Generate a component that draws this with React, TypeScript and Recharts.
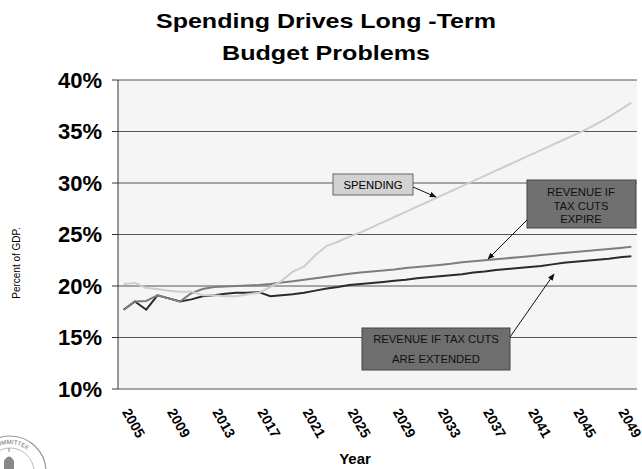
import React from 'react';
import { LineChart, Line, XAxis, YAxis, CartesianGrid } from 'recharts';

const YEARS = [
  2005, 2006, 2007, 2008, 2009, 2010, 2011, 2012, 2013, 2014, 2015, 2016, 2017, 2018, 2019, 2020,
  2021, 2022, 2023, 2024, 2025, 2026, 2027, 2028, 2029, 2030, 2031, 2032, 2033, 2034, 2035, 2036,
  2037, 2038, 2039, 2040, 2041, 2042, 2043, 2044, 2045, 2046, 2047, 2048, 2049, 2050,
];

// percent of GDP
const SPENDING = [
  20.2, 20.3, 19.8, 19.7, 19.55, 19.45, 19.45, 19.1, 19.1, 19.0, 19.0, 19.2, 19.35, 19.9, 20.5, 21.4,
  21.9, 23.0, 23.9, 24.3, 24.8, 25.2, 25.7, 26.2, 26.7, 27.2, 27.7, 28.2, 28.7, 29.2, 29.7, 30.2,
  30.7, 31.2, 31.7, 32.2, 32.7, 33.2, 33.7, 34.2, 34.7, 35.2, 35.8, 36.4, 37.1, 37.8,
];
const REVENUE_EXPIRE = [
  17.7, 18.5, 18.55, 19.1, 18.8, 18.5, 19.3, 19.7, 19.9, 19.95, 20.0, 20.05, 20.1, 20.2, 20.35, 20.45,
  20.6, 20.75, 20.9, 21.05, 21.2, 21.3, 21.4, 21.5, 21.6, 21.75, 21.85, 21.95, 22.05, 22.15, 22.3, 22.4,
  22.5, 22.6, 22.7, 22.8, 22.9, 23.0, 23.1, 23.2, 23.3, 23.4, 23.5, 23.6, 23.7, 23.8,
];
const REVENUE_EXTENDED = [
  17.7, 18.5, 17.7, 19.1, 18.8, 18.5, 18.7, 19.0, 19.1, 19.25, 19.35, 19.35, 19.4, 19.0, 19.1, 19.2,
  19.35, 19.55, 19.75, 19.9, 20.1, 20.2, 20.3, 20.4, 20.5, 20.6, 20.75, 20.85, 20.95, 21.05, 21.15, 21.3,
  21.4, 21.55, 21.65, 21.75, 21.85, 21.95, 22.1, 22.25, 22.35, 22.45, 22.55, 22.65, 22.8, 22.9,
];

const LABEL_YEARS = [2005, 2009, 2013, 2017, 2021, 2025, 2029, 2033, 2037, 2041, 2045, 2049];
const Y_TICKS = [10, 15, 20, 25, 30, 35, 40];

const FONT = '"Liberation Sans", Arial, Helvetica, sans-serif';

const data = YEARS.map((year, i) => ({
  year,
  spending: SPENDING[i],
  expire: REVENUE_EXPIRE[i],
  extended: REVENUE_EXTENDED[i],
}));

// excel style: tick marks sit between categories
const boundaryTicks = [YEARS[0] - 0.5, ...YEARS.map(y => y + 0.5)];

const YearTick = (props: any) => {
  const { x, y, payload } = props;
  return (
    <text
      transform={`translate(${x - 2}, ${y + 23}) rotate(60)`}
      textAnchor="start"
      fontFamily={FONT}
      fontSize={14}
      fontWeight="bold"
      fill="#000"
    >
      {payload.value}
    </text>
  );
};

const Overlay = () => (
  <svg width={642} height={469} style={{ position: 'absolute', left: 0, top: 0, pointerEvents: 'none' }}>
    <defs>
      <marker id="arr" viewBox="0 0 10 10" refX="9" refY="5" markerWidth="7" markerHeight="7" orient="auto">
        <path d="M0,1 L10,5 L0,9 z" fill="#111" />
      </marker>
      <path id="sealPath" d="M -18,472 A 28 28 0 0 1 38,472" />
    </defs>

    <g fontFamily={FONT} fontWeight="bold" fill="#000" textAnchor="middle">
      <text x={326} y={28} fontSize={21} textLength={340} lengthAdjust="spacingAndGlyphs">Spending Drives Long -Term</text>
      <text x={326} y={60} fontSize={21} textLength={208} lengthAdjust="spacingAndGlyphs">Budget Problems</text>
      <text x={355} y={464} fontSize={15}>Year</text>
    </g>

    <text transform="translate(20, 263) rotate(-90)" textAnchor="middle" fontFamily={FONT} fontSize={10} fill="#000">
      Percent of GDP.
    </text>

    {/* SPENDING callout */}
    <rect x={333} y={174} width={80} height={21} fill="#d2d2d2" stroke="#666" />
    <text x={373} y={189} textAnchor="middle" fontFamily={FONT} fontSize={11.3} fill="#000">SPENDING</text>
    <line x1={413} y1={187} x2={436} y2={197} stroke="#111" strokeWidth={1} markerEnd="url(#arr)" />

    {/* revenue if tax cuts expire */}
    <rect x={527} y={180} width={109} height={48} fill="#707070" stroke="#444" />
    <g fontFamily={FONT} fontSize={11.3} fill="#111" textAnchor="middle">
      <text x={581} y={196}>REVENUE IF</text>
      <text x={581} y={209.5}>TAX CUTS</text>
      <text x={581} y={222.5}>EXPIRE</text>
    </g>
    <line x1={527} y1={220} x2={488} y2={259} stroke="#111" strokeWidth={1} markerEnd="url(#arr)" />

    {/* revenue if tax cuts are extended */}
    <rect x={362} y={328} width={148} height={42} fill="#6e6e6e" stroke="#444" />
    <g fontFamily={FONT} fontSize={11.3} fill="#111" textAnchor="middle">
      <text x={436} y={343}>REVENUE IF TAX CUTS</text>
      <text x={436} y={363}>ARE EXTENDED</text>
    </g>
    <line x1={510} y1={337} x2={554} y2={274} stroke="#111" strokeWidth={1} markerEnd="url(#arr)" />

    {/* committee seal, bottom left */}
    <circle cx={10} cy={472} r={36} fill="none" stroke="#999" strokeWidth={1.2} />
    <circle cx={10} cy={472} r={24} fill="none" stroke="#aaa" strokeWidth={0.8} />
    <text fontFamily={FONT} fontSize={6} fill="#666">
      <textPath href="#sealPath">BUDGET COMMITTEE</textPath>
    </text>
    <path d="M4,469 L4,461 Q9,452 14,461 L14,469 Z" fill="#888" />
    <line x1={9} y1={452} x2={9} y2={448} stroke="#888" strokeWidth={1} />
  </svg>
);

export default function App() {
  return (
    <div style={{ position: 'absolute', left: 0, top: 0, width: 642, height: 469, background: '#fff' }}>
      <LineChart width={642} height={469} data={data} margin={{ top: 80, right: 5, left: 0, bottom: 20 }}>
        <CartesianGrid horizontal vertical={false} fill="#f5f5f5" stroke="#555" strokeWidth={1} xAxisId="ticks" />
        <XAxis
          xAxisId="ticks"
          dataKey="year"
          type="number"
          domain={[YEARS[0] - 0.5, YEARS[YEARS.length - 1] + 0.5]}
          ticks={boundaryTicks}
          interval={0}
          height={0}
          tickSize={5}
          tickFormatter={() => ''}
          tickLine={{ stroke: '#333' }}
          axisLine={{ stroke: '#333' }}
        />
        <XAxis
          xAxisId="years"
          dataKey="year"
          type="number"
          domain={[YEARS[0] - 0.5, YEARS[YEARS.length - 1] + 0.5]}
          ticks={LABEL_YEARS}
          interval={0}
          height={60}
          tickSize={0}
          tickMargin={0}
          tickLine={false}
          axisLine={false}
          tick={<YearTick />}
        />
        <YAxis
          domain={[10, 40]}
          ticks={Y_TICKS}
          width={118}
          tickSize={6}
          tickMargin={10}
          tickFormatter={(v: number) => `${v}%`}
          tick={{ fontFamily: FONT, fontSize: 22, fontWeight: 'bold', fill: '#000' }}
          tickLine={{ stroke: '#333' }}
          axisLine={{ stroke: '#333' }}
        />
        <YAxis yAxisId="right" orientation="right" width={0} domain={[10, 40]} tick={false} tickLine={false} axisLine={{ stroke: '#888' }} />
        <Line xAxisId="years" dataKey="extended" stroke="#2a2a2a" strokeWidth={2} dot={false} type="linear" isAnimationActive={false} />
        <Line xAxisId="years" dataKey="expire" stroke="#7d7d7d" strokeWidth={2} dot={false} type="linear" isAnimationActive={false} />
        <Line xAxisId="years" dataKey="spending" stroke="#cdcdcd" strokeWidth={2} dot={false} type="linear" isAnimationActive={false} />
      </LineChart>
      <Overlay />
    </div>
  );
}
